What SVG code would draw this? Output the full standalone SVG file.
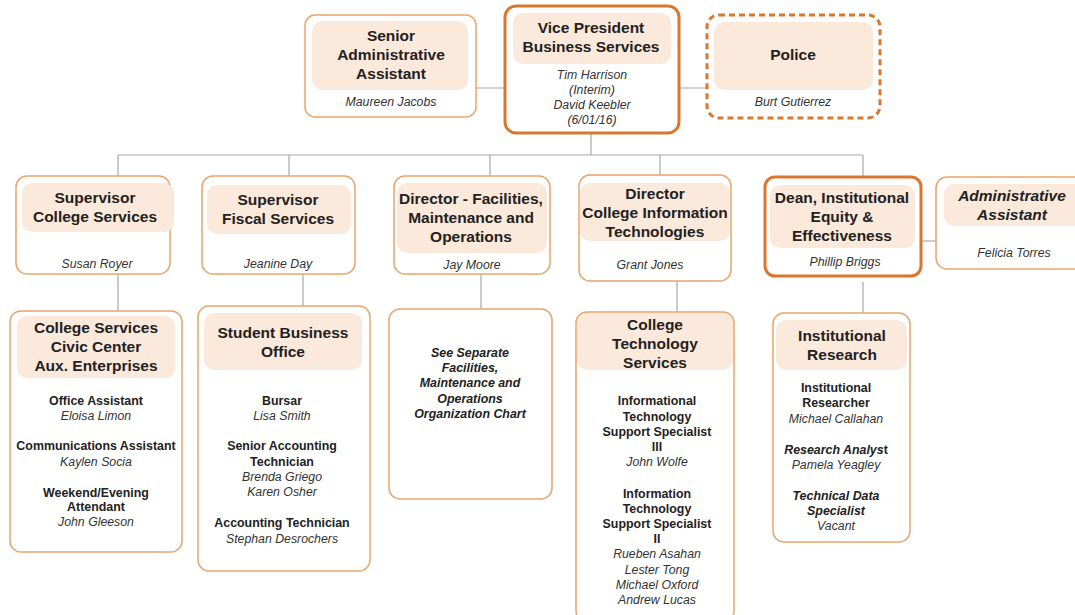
<svg xmlns="http://www.w3.org/2000/svg" width="1075" height="615" viewBox="0 0 1075 615">
<style>
.box{fill:#fff;stroke:#E9A56D;stroke-width:1.5}
.thick{fill:#fff;stroke:#D9772F;stroke-width:3}
.dash{fill:#fff;stroke:#D9772F;stroke-width:3;stroke-dasharray:6 4}
.hd{fill:#FBE9DB}
.t{font-family:"Liberation Sans",Arial,sans-serif;font-size:15.5px;font-weight:bold;fill:#222;text-anchor:middle}
.ti{font-family:"Liberation Sans",Arial,sans-serif;font-size:15.5px;font-weight:bold;font-style:italic;fill:#222;text-anchor:middle}
.n{font-family:"Liberation Sans",Arial,sans-serif;font-size:12.3px;font-style:italic;fill:#333;text-anchor:middle}
.r{font-family:"Liberation Sans",Arial,sans-serif;font-size:12.4px;font-weight:bold;fill:#222;text-anchor:middle}
.ri{font-family:"Liberation Sans",Arial,sans-serif;font-size:12.4px;font-weight:bold;font-style:italic;fill:#222;text-anchor:middle}
.c{fill:none;stroke:#A8A8A8;stroke-width:1.2}
</style>
<g id="connectors">
<path class="c" d="M476 88H505M679 88H707"/>
<path class="c" d="M591 133V155M118 155H863M118 155V176M289 155V176M490 155V176M660 155V175M863 155V176"/>
<path class="c" d="M921 241H936"/>
<path class="c" d="M118 274V311M303 274V306M481 274V309M677 281V312M863 282V313"/>
</g>
<g id="senior-admin">
<rect class="box" x="305" y="15" width="171" height="102" rx="10"/>
<rect class="hd" x="312" y="21" width="156" height="69" rx="10"/>
<text class="t" x="391" y="41">Senior</text>
<text class="t" x="391" y="60">Administrative</text>
<text class="t" x="391" y="79">Assistant</text>
<text class="n" x="391" y="106">Maureen Jacobs</text>
</g>
<g id="vp">
<rect class="thick" x="505" y="6" width="174" height="127" rx="11"/>
<rect class="hd" x="513" y="13" width="158" height="51" rx="10"/>
<text class="t" x="591" y="33">Vice President</text>
<text class="t" x="591" y="52">Business Services</text>
<text class="n" x="592" y="79">Tim Harrison</text>
<text class="n" x="592" y="94">(Interim)</text>
<text class="n" x="592" y="109">David Keebler</text>
<text class="n" x="592" y="124">(6/01/16)</text>
</g>
<g id="police">
<rect class="dash" x="707" y="15" width="173" height="103" rx="12"/>
<rect class="hd" x="714" y="22" width="159" height="68" rx="10"/>
<text class="t" x="793" y="60">Police</text>
<text class="n" x="793" y="106">Burt Gutierrez</text>
</g>
<g id="sup-college">
<rect class="box" x="16" y="176" width="154" height="98" rx="11"/>
<rect class="hd" x="22" y="183" width="152" height="49" rx="10"/>
<text class="t" x="95" y="203">Supervisor</text>
<text class="t" x="95" y="222">College Services</text>
<text class="n" x="97" y="268">Susan Royer</text>
</g>
<g id="sup-fiscal">
<rect class="box" x="202" y="176" width="153" height="98" rx="11"/>
<rect class="hd" x="207" y="185" width="144" height="49" rx="10"/>
<text class="t" x="278" y="205">Supervisor</text>
<text class="t" x="278" y="224">Fiscal Services</text>
<text class="n" x="278" y="268">Jeanine Day</text>
</g>
<g id="dir-facilities">
<rect class="box" x="394" y="176" width="156" height="98" rx="11"/>
<rect class="hd" x="397" y="183" width="150" height="70" rx="10"/>
<text class="t" x="471" y="204">Director - Facilities,</text>
<text class="t" x="471" y="223">Maintenance and</text>
<text class="t" x="471" y="242">Operations</text>
<text class="n" x="472" y="269">Jay Moore</text>
</g>
<g id="dir-cit">
<rect class="box" x="579" y="175" width="152" height="106" rx="11"/>
<rect class="hd" x="580" y="183" width="150" height="58" rx="10"/>
<text class="t" x="655" y="199">Director</text>
<text class="t" x="655" y="218">College Information</text>
<text class="t" x="655" y="237">Technologies</text>
<text class="n" x="650" y="269">Grant Jones</text>
</g>
<g id="dean">
<rect class="thick" x="765" y="177" width="156" height="99" rx="10"/>
<rect class="hd" x="770" y="185" width="145" height="63" rx="10"/>
<text class="t" x="842" y="203">Dean, Institutional</text>
<text class="t" x="842" y="222">Equity &amp;</text>
<text class="t" x="842" y="241">Effectiveness</text>
<text class="n" x="845" y="266">Phillip Briggs</text>
</g>
<g id="admin-assistant">
<rect class="box" x="936" y="177" width="150" height="92" rx="11"/>
<rect class="hd" x="944" y="184" width="140" height="42" rx="10"/>
<text class="ti" x="1012" y="201">Administrative</text>
<text class="ti" x="1012" y="220">Assistant</text>
<text class="n" x="1014" y="257">Felicia Torres</text>
</g>
<g id="college-services">
<rect class="box" x="10" y="311" width="172" height="241" rx="11"/>
<rect class="hd" x="17" y="316" width="158" height="62" rx="10"/>
<text class="t" x="96" y="333">College Services</text>
<text class="t" x="96" y="352">Civic Center</text>
<text class="t" x="96" y="371">Aux. Enterprises</text>
<text class="r" x="96" y="405">Office Assistant</text>
<text class="n" x="96" y="420">Eloisa Limon</text>
<text class="r" x="96" y="450">Communications Assistant</text>
<text class="n" x="96" y="466">Kaylen Socia</text>
<text class="r" x="96" y="497">Weekend/Evening</text>
<text class="r" x="96" y="511">Attendant</text>
<text class="n" x="96" y="526">John Gleeson</text>
</g>
<g id="student-business">
<rect class="box" x="198" y="306" width="172" height="265" rx="11"/>
<rect class="hd" x="204" y="313" width="158" height="57" rx="10"/>
<text class="t" x="283" y="338">Student Business</text>
<text class="t" x="283" y="357">Office</text>
<text class="r" x="282" y="405">Bursar</text>
<text class="n" x="282" y="420">Lisa Smith</text>
<text class="r" x="282" y="450">Senior Accounting</text>
<text class="r" x="282" y="466">Technician</text>
<text class="n" x="282" y="481">Brenda Griego</text>
<text class="n" x="282" y="496">Karen Osher</text>
<text class="r" x="282" y="527">Accounting Technician</text>
<text class="n" x="282" y="543">Stephan Desrochers</text>
</g>
<g id="see-separate">
<rect class="box" x="389" y="309" width="163" height="190" rx="11"/>
<text class="ri" x="470" y="357">See Separate</text>
<text class="ri" x="470" y="372">Facilities,</text>
<text class="ri" x="470" y="387">Maintenance and</text>
<text class="ri" x="470" y="403">Operations</text>
<text class="ri" x="470" y="418">Organization Chart</text>
</g>
<g id="college-tech">
<rect class="box" x="576" y="312" width="158" height="310" rx="11"/>
<rect class="hd" x="577" y="313" width="156" height="57" rx="10"/>
<text class="t" x="655" y="330">College</text>
<text class="t" x="655" y="349">Technology</text>
<text class="t" x="655" y="368">Services</text>
<text class="r" x="657" y="405">Informational</text>
<text class="r" x="657" y="421">Technology</text>
<text class="r" x="657" y="436">Support Specialist</text>
<text class="r" x="657" y="451">III</text>
<text class="n" x="657" y="466">John Wolfe</text>
<text class="r" x="657" y="498">Information</text>
<text class="r" x="657" y="513">Technology</text>
<text class="r" x="657" y="528">Support Specialist</text>
<text class="r" x="657" y="543">II</text>
<text class="n" x="657" y="558">Rueben Asahan</text>
<text class="n" x="657" y="574">Lester Tong</text>
<text class="n" x="657" y="589">Michael Oxford</text>
<text class="n" x="657" y="604">Andrew Lucas</text>
</g>
<g id="institutional-research">
<rect class="box" x="773" y="313" width="137" height="229" rx="11"/>
<rect class="hd" x="776" y="320" width="131" height="50" rx="10"/>
<text class="t" x="842" y="341">Institutional</text>
<text class="t" x="842" y="360">Research</text>
<text class="r" x="836" y="392">Institutional</text>
<text class="r" x="836" y="407">Researcher</text>
<text class="n" x="836" y="423">Michael Callahan</text>
<text class="ri" x="836" y="454">Research Analys<tspan font-style="normal">t</tspan></text>
<text class="n" x="836" y="469">Pamela Yeagley</text>
<text class="ri" x="836" y="500">Technical Data</text>
<text class="ri" x="836" y="515">Specialist</text>
<text class="n" x="836" y="530">Vacant</text>
</g>
</svg>
